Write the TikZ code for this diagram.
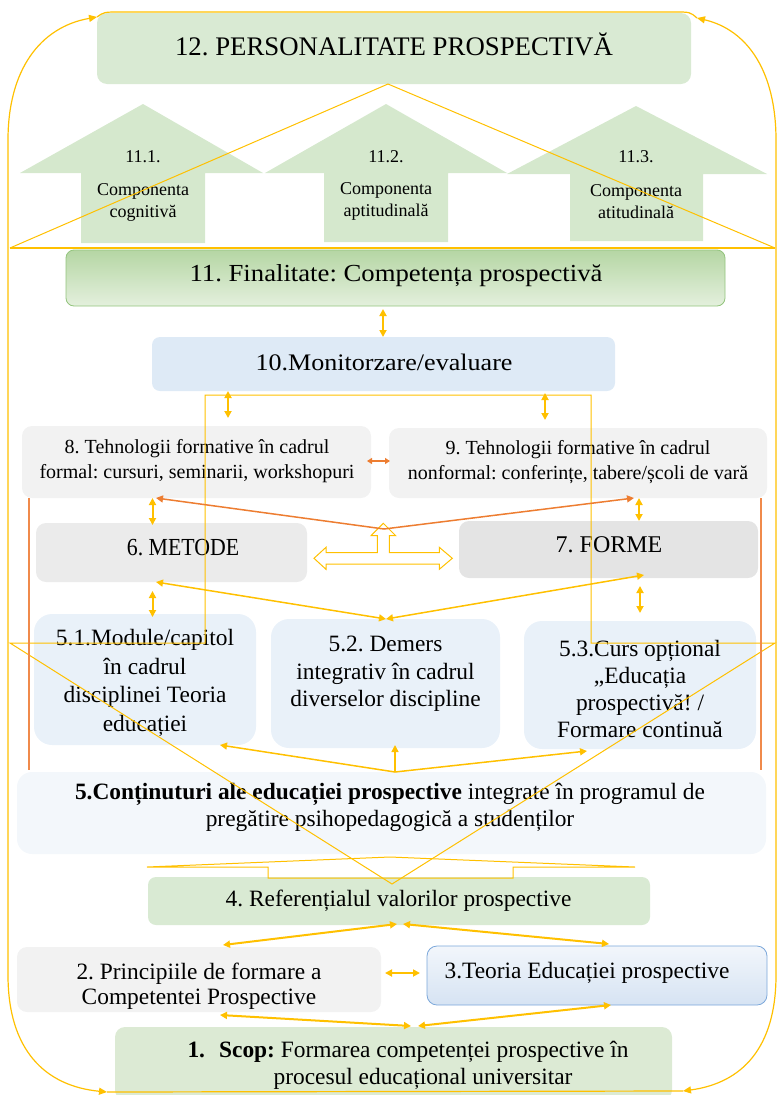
\documentclass[tikz,border=0pt]{standalone}
\usepackage{fontspec}
\usepackage{graphicx}
\setmainfont{Liberation Serif}
\frenchspacing
\usetikzlibrary{arrows.meta}
\definecolor{yel}{HTML}{FFC000}
\definecolor{orng}{HTML}{ED7D31}
\definecolor{orngl}{HTML}{F08A4B}
\definecolor{grn}{HTML}{D9EAD3}
\definecolor{agrn}{HTML}{D5E8CD}
\definecolor{gtop}{HTML}{B5D6A4}
\definecolor{gbot}{HTML}{E4F0DD}
\definecolor{gbord}{HTML}{93C47D}
\definecolor{lblue}{HTML}{DEEAF6}
\definecolor{gr1}{HTML}{F2F2F2}
\definecolor{gr6}{HTML}{EBEBEB}
\definecolor{gr7}{HTML}{E4E4E4}
\definecolor{bl5}{HTML}{E9F1F9}
\definecolor{bl0}{HTML}{F3F7FB}
\definecolor{btop}{HTML}{F2F6FB}
\definecolor{bbot}{HTML}{D6E3F3}
\definecolor{bbord}{HTML}{7BA7DA}
\definecolor{grn1}{HTML}{DCEAD4}
\newcommand\myfs[2]{\fontsize{#1}{#2}\selectfont\frenchspacing}
\begin{document}
\begin{tikzpicture}[x=1pt,y=-1pt,
  box/.style={draw=none,inner sep=0pt,rounded corners=10pt},
  txt/.style={inner sep=0pt,align=center,text=black},
  dbl/.style={draw=yel,line width=2pt,{Triangle[length=7pt,width=7pt]}-{Triangle[length=7pt,width=7pt]}},
  one/.style={draw=yel,line width=1.5pt,-{Triangle[length=7pt,width=7pt]}},
  odbl/.style={draw=orng,line width=2pt,{Triangle[length=5pt,width=6pt]}-{Triangle[length=5pt,width=6pt]}},
  oone/.style={draw=orng,line width=1.5pt,-{Triangle[length=7pt,width=7pt]}},
  outl/.style={draw=yel,line width=1pt,line join=miter},
  loopln/.style={draw=yel,line width=1.2pt}]
\useasboundingbox (0,0) rectangle (777,1095);

% ---------- boxes ----------
\node[box,fill=grn,minimum width=594pt,minimum height=71pt] (b12) at (394,48.5) {};
\node[box,draw=gbord,line width=0.8pt,top color=gtop,bottom color=gbot,rounded corners=8pt,minimum width=659pt,minimum height=56pt] (b11) at (395.5,278) {};
\node[box,fill=lblue,rounded corners=8pt,minimum width=463pt,minimum height=54pt] (b10) at (383.5,364) {};
\node[box,fill=gr1,minimum width=349pt,minimum height=72pt] (b8) at (196.5,462) {};
\node[box,fill=gr1,minimum width=378pt,minimum height=70pt] (b9) at (578,463) {};
\node[box,fill=gr6,minimum width=271pt,minimum height=59pt] (b6) at (171.5,552.5) {};
\node[box,fill=gr7,minimum width=299pt,minimum height=57pt] (b7) at (608.5,549.5) {};
\node[box,fill=bl5,rounded corners=18pt,minimum width=222pt,minimum height=131pt] (b51) at (145,679.5) {};
\node[box,fill=bl5,rounded corners=18pt,minimum width=229pt,minimum height=129pt] (b52) at (385.5,683.5) {};
\node[box,fill=bl5,rounded corners=18pt,minimum width=232pt,minimum height=128pt] (b53) at (640,685) {};
\node[box,fill=bl0,rounded corners=15pt,minimum width=749pt,minimum height=82pt] (b5) at (391.5,813) {};
\node[box,fill=grn,rounded corners=8pt,minimum width=502pt,minimum height=48pt] (b4) at (399,901) {};
\node[box,fill=gr1,minimum width=364pt,minimum height=65pt] (b2) at (199,979.5) {};
\node[box,draw=bbord,line width=0.8pt,top color=btop,bottom color=bbot,minimum width=340pt,minimum height=59pt] (b3) at (597,975.5) {};
\node[box,fill=grn1,minimum width=557pt,minimum height=73pt] (b1) at (393.5,1063.5) {};

% ---------- block up arrows ----------
\fill[agrn] (20,173) -- (143,104) -- (263,173) -- (205,173) -- (205,243) -- (81,243) -- (81,173) -- cycle;
\fill[agrn] (265,173) -- (386,104) -- (507,173) -- (448,173) -- (448,242) -- (324,242) -- (324,173) -- cycle;
\fill[agrn] (507,174) -- (636,106) -- (767,174) -- (703,174) -- (703,241) -- (570,241) -- (570,174) -- cycle;

% ---------- texts ----------
\node[txt,font=\myfs{26.8}{30}] (t12) at (394,44) {12. PERSONALITATE PROSPECTIVĂ};
\node[txt,font=\myfs{18}{22}] (t111) at (143,157) {11.1.};
\node[txt,font=\myfs{18}{22}] (t111b) at (143,202) {Componenta\\cognitivă};
\node[txt,font=\myfs{18}{22}] (t112) at (386,157) {11.2.};
\node[txt,font=\myfs{18}{22}] (t112b) at (386,201) {Componenta\\aptitudinală};
\node[txt,font=\myfs{18}{22}] (t113) at (636,157) {11.3.};
\node[txt,font=\myfs{18}{22}] (t113b) at (636,202) {Componenta\\atitudinală};
\node[txt,font=\myfs{24.5}{29}] (t11) at (396,276) {\scalebox{1.09}[1]{11. Finalitate: Competența prospectivă}};
\node[txt,font=\myfs{23.7}{28}] (t10) at (384,362) {\scalebox{1.1}[1]{10.Monitorzare/evaluare}};
\node[txt,font=\myfs{20}{25}] (t8) at (197,461) {8. Tehnologii formative în cadrul\\formal: cursuri, seminarii, workshopuri};
\node[txt,font=\myfs{20}{25}] (t9) at (578,462) {9. Tehnologii formative în cadrul\\nonformal: conferințe, tabere/școli de vară};
\node[txt,font=\myfs{24.5}{28}] (t6) at (183,548) {\scalebox{0.89}[1]{6. METODE}};
\node[txt,font=\myfs{24}{28}] (t7) at (609,545) {7. FORME};
\node[txt,font=\myfs{23.4}{28.5}] (t51) at (145,683) {5.1.Module/capitol\\în cadrul\\disciplinei Teoria\\educației};
\node[txt,font=\myfs{23.4}{27.5}] (t52) at (385.5,674) {5.2. Demers\\integrativ în cadrul\\diverselor discipline};
\node[txt,font=\myfs{23.4}{27}] (t53) at (640,689) {5.3.Curs opțional\\„Educația\\prospectivă! /\\Formare continuă};
\node[txt,font=\myfs{23.4}{27}] (t5) at (390,807) {\textbf{5.Conținuturi ale educației prospective} integrate în programul de\\pregătire psihopedagogică a studenților};
\node[txt,font=\myfs{23.4}{27}] (t4) at (398.5,901) {4. Referențialul valorilor prospective};
\node[txt,font=\myfs{23.4}{25}] (t2) at (199,986) {2. Principiile de formare a\\Competentei Prospective};
\node[txt,font=\myfs{23.4}{27}] (t3) at (587,973) {3.Teoria Educației prospective};
\node[txt,font=\myfs{23.4}{27}] (t1a) at (408,1052) {\textbf{1.}\hspace{0.6em}\textbf{Scop:} Formarea competenței prospective în};
\node[txt,font=\myfs{23.4}{27}] (t1b) at (423,1079) {procesul educațional universitar};

% ---------- outline shapes ----------
\draw[outl] (10,248) -- (388,84) -- (775,248);
\draw[yel,line width=1.8pt] (10,248) -- (775,248);
\draw[outl] (10,643) -- (205,643) -- (205,395) -- (591,395) -- (591,643) -- (775,643) -- (392,884) -- cycle;
\draw[outl] (147,867) -- (390,857) -- (635,867) -- (513,867) -- (513,878) -- (268,878) -- (268,867) -- cycle;
\draw[outl] (383.3,523.3) -- (395.7,535.7) -- (389.3,535.7) -- (389.3,552.7) -- (439.3,552.7) -- (439.3,547.3) -- (452.3,558.3) -- (439.3,569.3) -- (439.3,564) -- (326,564) -- (326,569.3) -- (314,558.3) -- (326,547.3) -- (326,552.7) -- (377.3,552.7) -- (377.3,535.7) -- (371,535.7) -- cycle;

% ---------- outer loop ----------
\coordinate (lt) at (97,17);
\coordinate (lb) at (107,1092);
\coordinate (rt) at (697,18);
\coordinate (rb) at (683,1091);
\draw[loopln,{Triangle[length=8pt,width=7pt]}-{Triangle[length=8pt,width=7pt]}] (lt) .. controls (40,27) and (8,70) .. (8,140) -- (8,975) .. controls (8,1050) and (45,1086) .. (lb);
\draw[loopln,{Triangle[length=8pt,width=7pt]}-{Triangle[length=8pt,width=7pt]}] (rt) .. controls (748,30) and (776,72) .. (776,140) -- (776,975) .. controls (776,1048) and (742,1083) .. (rb);
\draw[loopln] (lt) .. controls (104,12) .. (120,12) -- (675,12) .. controls (690,12) .. (rt);
\draw[loopln] (lb) -- (rb);

% ---------- connectors ----------
\coordinate (a11) at (383,309); \coordinate (a10) at (383,337);
\draw[dbl] (a11) -- (a10);
\coordinate (a10l) at (228,391); \coordinate (a8t) at (228,418);
\draw[dbl] (a10l) -- (a8t);
\coordinate (a10r) at (545,393); \coordinate (a9t) at (545,420);
\draw[dbl] (a10r) -- (a9t);
\coordinate (a8r) at (367,461); \coordinate (a9l) at (390,461);
\draw[odbl] (a8r) -- (a9l);
\coordinate (oj) at (384,529); \coordinate (a8b) at (156,498); \coordinate (a9b) at (634,498);
\draw[oone] (oj) -- (a8b);
\draw[oone] (oj) -- (a9b);
\coordinate (a8bb) at (152.5,498); \coordinate (a6t) at (152.5,525);
\draw[dbl] (a8bb) -- (a6t);
\coordinate (a9bb) at (639,498); \coordinate (a7t) at (639,521);
\draw[dbl] (a9bb) -- (a7t);
\coordinate (yj) at (386,619); \coordinate (a6b) at (156,582); \coordinate (a7b) at (644,575);
\draw[one,{Triangle[length=7pt,width=7pt]}-{Triangle[length=7pt,width=7pt]}] (yj) -- (a6b);
\draw[one,{Triangle[length=7pt,width=7pt]}-{Triangle[length=7pt,width=7pt]}] (yj) -- (a7b);
\coordinate (a6bb) at (152.5,591); \coordinate (a51t) at (152.5,617);
\draw[dbl] (a6bb) -- (a51t);
\coordinate (a7bb) at (640,586); \coordinate (a53t) at (640,613);
\draw[dbl] (a7bb) -- (a53t);
\coordinate (j5) at (395,772); \coordinate (a51b) at (220,745); \coordinate (a52b) at (395,745); \coordinate (a53b) at (587,751);
\draw[one] (j5) -- (a51b);
\draw[one] (j5) -- (a52b);
\draw[one] (j5) -- (a53b);
\coordinate (ol1) at (29,498); \coordinate (ol2) at (29,770);
\coordinate (or1) at (761,498); \coordinate (or2) at (761,770);
\draw[draw=orngl,line width=1.2pt] (ol1) -- (ol2);
\draw[draw=orngl,line width=1.2pt] (or1) -- (or2);
\coordinate (a4l) at (397,924); \coordinate (a2t) at (223,945);
\coordinate (a4r) at (403,924); \coordinate (a3t) at (609,944);
\draw[dbl] (a4l) -- (a2t);
\draw[dbl] (a4r) -- (a3t);
\coordinate (a2r) at (385,973); \coordinate (a3l) at (420,973);
\draw[dbl] (a2r) -- (a3l);
\coordinate (a1l) at (411,1026); \coordinate (a2b) at (220,1015);
\coordinate (a1r) at (418,1026); \coordinate (a3b) at (611,1005);
\draw[dbl] (a1l) -- (a2b);
\draw[dbl] (a1r) -- (a3b);
\end{tikzpicture}
\end{document}
